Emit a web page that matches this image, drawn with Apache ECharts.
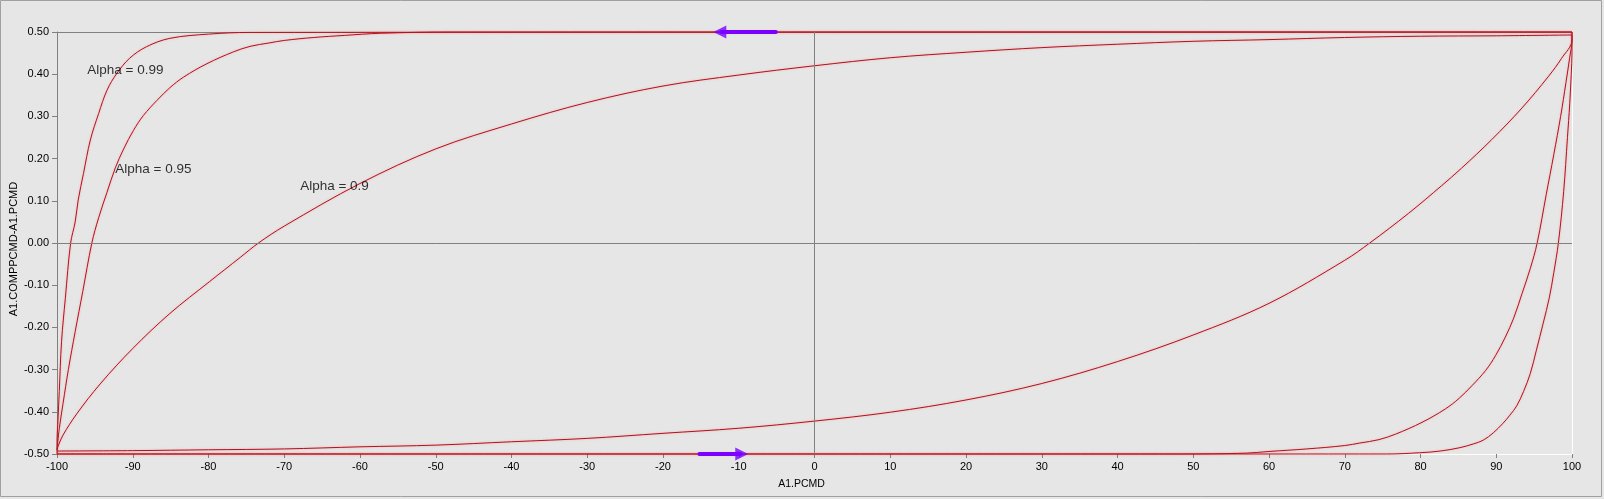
<!DOCTYPE html>
<html>
<head>
<meta charset="utf-8">
<script src="https://cdn.jsdelivr.net/npm/echarts@6/dist/echarts.min.js"></script>
<style>
html,body{margin:0;padding:0;background:#e6e6e6;}
#chart{width:1604px;height:499px;}
</style>
</head>
<body>
<div id="chart"></div>
<script>
// ---- Data ----
// X axis: A1.PCMD, Y axis: A1.COMPPCMD-A1.PCMD
const xMin = -100, xMax = 100, xStep = 10;
const yMin = -0.5, yMax = 0.5, yStep = 0.1;

// Alpha = 0.99 : increasing branch then decreasing branch
const a99Rising = [[-100,-0.5],[70.7,-0.5],[75.5,-0.5],[79.9,-0.497],[82.6,-0.493],[85.2,-0.485],[87.0,-0.476],[88.3,-0.467],[89.6,-0.45],[90.9,-0.427],[91.8,-0.408],[92.7,-0.386],[93.6,-0.352],[94.5,-0.309],[95.3,-0.254],[96.2,-0.19],[97.0,-0.13],[97.6,-0.07],[98.2,0],[98.9,0.122],[99.4,0.25],[99.7,0.33],[99.9,0.40],[100,0.45],[100,0.5]];
const a99Falling = [[100,0.5],[-74.5,0.499],[-80,0.495],[-85.1,0.485],[-88.2,0.465],[-90.4,0.438],[-92.1,0.402],[-93.4,0.362],[-94.5,0.307],[-95.6,0.244],[-96.5,0.165],[-97.2,0.102],[-97.6,0.05],[-98.2,0],[-98.9,-0.131],[-99.4,-0.234],[-99.7,-0.352],[-99.9,-0.43],[-100,-0.47],[-100,-0.5]];

// Alpha = 0.95
const a95Rising = [[-100,-0.5],[48,-0.5],[57,-0.498],[60,-0.494],[65,-0.488],[70,-0.48],[72,-0.474],[74.5,-0.466],[76.7,-0.453],[80.2,-0.425],[83.3,-0.393],[85.1,-0.368],[86.8,-0.338],[88.6,-0.302],[89.9,-0.267],[91.2,-0.223],[92.3,-0.178],[93.4,-0.12],[94.5,-0.06],[95.4,0],[96.6,0.115],[97.6,0.21],[98.5,0.3],[99.2,0.38],[99.7,0.44],[100,0.481],[100,0.5]];
const a95Falling = [[100,0.5],[-48,0.5],[-57.3,0.497],[-62,0.492],[-66.1,0.487],[-70,0.48],[-72,0.474],[-74.5,0.466],[-76.7,0.453],[-80.2,0.425],[-83.3,0.393],[-85.1,0.368],[-86.8,0.338],[-88.6,0.302],[-89.9,0.267],[-91.2,0.223],[-92.3,0.178],[-93.4,0.12],[-94.5,0.06],[-95.4,0],[-96.6,-0.115],[-97.6,-0.21],[-98.5,-0.30],[-99.2,-0.38],[-99.7,-0.44],[-100,-0.49]];

// Alpha = 0.9
const a90Rising = [[-100,-0.493],[-90,-0.492],[-80,-0.49],[-70,-0.488],[-60,-0.483],[-50,-0.479],[-40,-0.471],[-30,-0.463],[-20,-0.451],[-10,-0.439],[0,-0.422],[10,-0.401],[20,-0.372],[30,-0.333],[40,-0.281],[50,-0.218],[60,-0.143],[70,-0.041],[73.3,0],[78.4,0.07],[82.8,0.136],[85.4,0.177],[89.4,0.245],[93.4,0.32],[96.9,0.395],[98.6,0.437],[100,0.481],[100,0.493]];
const a90Falling = [[100,0.493],[90,0.491],[80,0.49],[70,0.487],[60,0.482],[50,0.478],[40,0.471],[30,0.463],[20,0.452],[10,0.439],[0,0.42],[-10,0.398],[-20,0.372],[-30,0.333],[-40,0.282],[-50,0.223],[-60,0.141],[-70,0.04],[-73.4,0],[-75.8,-0.034],[-79.9,-0.092],[-85.1,-0.167],[-90,-0.25],[-94.3,-0.334],[-97.4,-0.405],[-99.2,-0.455],[-99.8,-0.479],[-100,-0.49]];

// Direction arrows: shaft (tail -> head centre), head centre, head direction
const arrowShafts = [[[-5.1,0.5],[-12.3,0.5]], [[-15.2,-0.5],[-9.8,-0.5]]];
const arrowHeads = [[-12.5,0.5],[-9.6,-0.5]];
const arrowHeadRotate = [90,-90];

// Curve labels
const labelTexts = ['Alpha = 0.99','Alpha = 0.95','Alpha = 0.9'];
const labelX = [-96.0,-92.3,-67.9];
const labelY = [0.41,0.175,0.134];

// ---- Chart ----
const RED = '#b80f1c';
const GRAY = '#808080';
const PURPLE = '#7b00ff';
const FONT = 'Liberation Sans, Arial, sans-serif';

const chart = echarts.init(document.getElementById('chart'), null, {renderer:'canvas'});

function branch(name, pts){
  return {
    name: name, type:'line', data: pts, smooth:0.35,
    showSymbol:false, symbol:'none', clip:false, z:3, silent:true,
    lineStyle:{color:RED, width:1, shadowColor:'rgba(240,110,110,0.5)', shadowBlur:2},
    animation:false
  };
}

const option = {
  backgroundColor:'#e6e6e6',
  animation:false,
  grid:{left:57, right:32, top:32, bottom:45, show:false, containLabel:false, outerBoundsMode:'none'},
  graphic:[{type:'rect', shape:{x:0.5,y:0.5,width:1601,height:496}, style:{fill:'none', stroke:'#a0a0a0', lineWidth:1}, silent:true}],
  xAxis:[{
    type:'value', position:'bottom', min:xMin, max:xMax, interval:xStep,
    axisLine:{onZero:false, lineStyle:{color:'#ffffff', width:1}},
    axisTick:{length:4, lineStyle:{color:GRAY}},
    axisLabel:{margin:7, color:'#000', fontSize:11, fontFamily:FONT},
    splitLine:{show:false},
    name:'A1.PCMD', nameLocation:'middle', nameGap:25, nameMoveOverlap:false,
    nameTextStyle:{color:'#000', fontSize:10.5, fontFamily:FONT, padding:[0,26,0,0]}
  },{
    type:'value', position:'top', min:xMin, max:xMax, interval:xStep,
    axisLine:{onZero:false, lineStyle:{color:GRAY}},
    axisTick:{show:false}, axisLabel:{show:false}, splitLine:{show:false}
  }],
  yAxis:[{
    type:'value', position:'left', min:yMin, max:yMax, interval:yStep,
    axisLine:{onZero:false, lineStyle:{color:GRAY}},
    axisTick:{length:5, lineStyle:{color:GRAY}},
    axisLabel:{margin:8, color:'#000', fontSize:11, fontFamily:FONT, formatter:v=>v.toFixed(2)},
    splitLine:{show:false},
    name:'A1.COMPPCMD-A1.PCMD', nameLocation:'middle', nameGap:38, nameMoveOverlap:false,
    nameTextStyle:{color:'#000', fontSize:11, fontFamily:FONT, padding:[0,12,0,0]}
  },{
    type:'value', position:'right', min:yMin, max:yMax, interval:yStep,
    axisLine:{onZero:false, lineStyle:{color:'#ffffff'}},
    axisTick:{show:false}, axisLabel:{show:false}, splitLine:{show:false}
  }],
  series:[
    {
      type:'line', data:[], z:1, silent:true,
      markLine:{silent:true, symbol:['none','none'], label:{show:false},
        lineStyle:{color:GRAY, type:'solid', width:1}, animation:false,
        data:[{xAxis:0},{yAxis:0}]}
    },
    branch('Alpha = 0.99 up', a99Rising),
    branch('Alpha = 0.99 down', a99Falling),
    branch('Alpha = 0.95 up', a95Rising),
    branch('Alpha = 0.95 down', a95Falling),
    branch('Alpha = 0.9 up', a90Rising),
    branch('Alpha = 0.9 down', a90Falling),
    {
      type:'lines', coordinateSystem:'cartesian2d', z:5, silent:true,
      symbol:['none','none'],
      lineStyle:{color:PURPLE, width:4, opacity:1, curveness:0, cap:'round'},
      data: arrowShafts.map(c=>({coords:c}))
    },
    {
      type:'scatter', z:6, silent:true, symbol:'triangle', symbolSize:[13,13],
      itemStyle:{color:PURPLE},
      data: arrowHeads.map((p,i)=>({value:p, symbolRotate:arrowHeadRotate[i]}))
    },
    {
      type:'scatter', z:6, silent:true, symbolSize:1,
      itemStyle:{color:'rgba(0,0,0,0)'},
      label:{show:true, position:'inside', align:'left', verticalAlign:'middle', color:'#000', fontSize:13.5, fontFamily:FONT,
        formatter:p=>labelTexts[p.dataIndex]},
      data: labelX.map((x,i)=>[x,labelY[i]])
    }
  ]
};
chart.setOption(option);
</script>
</body>
</html>
